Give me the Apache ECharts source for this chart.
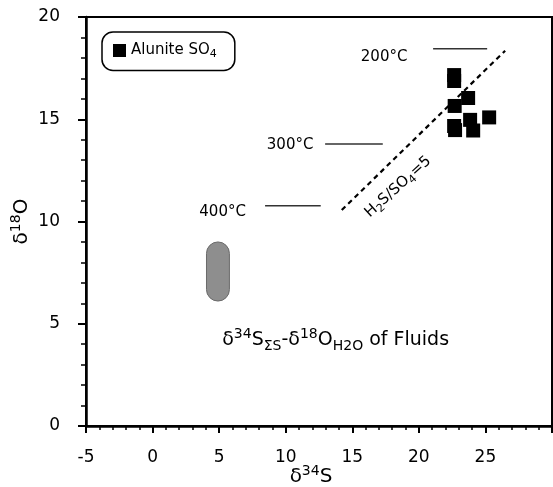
<!DOCTYPE html>
<html>
<head>
<meta charset="utf-8">
<script src="https://cdn.jsdelivr.net/npm/echarts@6/dist/echarts.min.js"></script>
<style>html,body{margin:0;padding:0;background:#fff}#c{width:553px;height:487px}</style>
</head>
<body>
<div id="c"></div>
<script>
// Alunite SO4 data (δ34S, δ18O)
var aluniteX = [22.65, 22.65, 23.70, 22.69, 25.28, 23.85, 22.65, 22.72, 24.08];
var aluniteY = [17.16, 16.87, 16.04, 15.65, 15.09, 14.97, 14.67, 14.47, 14.45];

// H2S/SO4 = 5 dashed line end points
var ratioLineX = [14.21, 26.48];
var ratioLineY = [10.56, 18.35];

// Temperature horizontal lines
var tempNames = ['200°C', '300°C', '400°C'];
var tempLineX1 = [21.07, 12.96, 8.45];
var tempLineX2 = [25.13, 17.29, 12.63];
var tempLineY = [18.45, 13.79, 10.77];
var tempLabelX = [17.39, 10.33, 5.26];
var tempLabelY = [18.04, 13.74, 10.46];

// Fluid field (gray box)
var fluidX = [4.05, 5.77];
var fluidY = [6.11, 9.0];

// Axis ticks
var xMin = -5, xMax = 30, xStep = 5;
var yMin = 0, yMax = 20, yStep = 5;

var FONT = 'DejaVu Sans';

var series = [];

series.push({
  name: 'Alunite SO4',
  type: 'scatter',
  symbol: 'rect',
  symbolSize: 14,
  itemStyle: { color: '#000', opacity: 1 },
  data: aluniteX.map(function (x, i) { return [x, aluniteY[i]]; }),
  z: 5
});

series.push({
  type: 'line',
  symbol: 'none',
  lineStyle: { color: '#000', width: 2.2, type: [5, 4] },
  data: ratioLineX.map(function (x, i) { return [x, ratioLineY[i]]; }),
  z: 4
});

tempNames.forEach(function (n, i) {
  series.push({
    type: 'line',
    symbol: 'none',
    lineStyle: { color: '#333', width: 1.5 },
    data: [[tempLineX1[i], tempLineY[i]], [tempLineX2[i], tempLineY[i]]]
  });
});

series.push({
  type: 'scatter',
  symbolSize: 0,
  silent: true,
  itemStyle: { opacity: 1 },
  data: tempNames.map(function (n, i) { return { name: n, value: [tempLabelX[i], tempLabelY[i]] }; }),
  label: {
    show: true, position: 'inside', formatter: '{b}',
    color: '#000', fontFamily: FONT, fontSize: 15
  }
});

// fluid box
series.push({
  type: 'custom',
  silent: true,
  renderItem: function (params, api) {
    var p1 = api.coord([fluidX[0], fluidY[1]]);
    var p2 = api.coord([fluidX[1], fluidY[0]]);
    var w = p2[0] - p1[0], h = p2[1] - p1[1];
    return {
      type: 'rect',
      shape: { x: p1[0], y: p1[1], width: w, height: h, r: w / 2 },
      style: { fill: '#8e8e8e', stroke: '#6a6a6a', lineWidth: 1 }
    };
  },
  data: [[fluidX[0], fluidY[0]]]
});

// ratio label and fluid annotation
series.push({
  type: 'scatter',
  symbolSize: 0,
  silent: true,
  itemStyle: { opacity: 1 },
  data: [{ value: [18.44, 11.69] }],
  label: {
    show: true, position: 'inside', rotate: 42,
    formatter: '{m|H}{s|2}{m|S/SO}{s|4}{m|=5}',
    rich: {
      m: { fontFamily: FONT, fontSize: 15, color: '#000', lineHeight: 20 },
      s: { fontFamily: FONT, fontSize: 11, color: '#000', lineHeight: 12, verticalAlign: 'bottom' }
    }
  }
});

series.push({
  type: 'scatter',
  symbolSize: 0,
  silent: true,
  itemStyle: { opacity: 1 },
  data: [{ value: [13.75, 4.2] }],
  label: {
    show: true, position: 'inside',
    formatter: '{m|δ}{p|34}{m|S}{b|ΣS}{m|-δ}{p|18}{m|O}{b|H2O}{m| of Fluids}',
    rich: {
      m: { fontFamily: FONT, fontSize: 19, color: '#000', lineHeight: 26 },
      p: { fontFamily: FONT, fontSize: 14, color: '#000', lineHeight: 14, verticalAlign: 'top' },
      b: { fontFamily: FONT, fontSize: 14, color: '#000', lineHeight: 14, verticalAlign: 'bottom' }
    }
  }
});

var chart = echarts.init(document.getElementById('c'));
chart.setOption({
  backgroundColor: '#fff',
  animation: false,
  grid: { left: 86, right: 1, top: 17, bottom: 61, show: true, borderColor: '#000', borderWidth: 2, containLabel: false, outerBoundsMode: 'none' },
  legend: {
    data: [{ name: 'Alunite SO4', icon: 'rect' }],
    left: 102, top: 32,
    orient: 'horizontal',
    padding: [11, 18, 11, 11],
    itemWidth: 13, itemHeight: 13,
    borderColor: '#000', borderWidth: 1.5, borderRadius: 11,
    formatter: function () { return '{m|Alunite SO}{s|4}'; },
    textStyle: {
      rich: {
        m: { fontFamily: FONT, fontSize: 15, color: '#000', lineHeight: 18 },
        s: { fontFamily: FONT, fontSize: 11, color: '#000', lineHeight: 12, verticalAlign: 'bottom' }
      }
    }
  },
  xAxis: {
    type: 'value', min: xMin, max: xMax, interval: xStep,
    splitLine: { show: false },
    axisLine: { show: true, onZero: false, lineStyle: { color: '#000', width: 2.5 } },
    axisTick: { show: true, inside: false, length: 7, lineStyle: { color: '#000', width: 2 } },
    minorTick: { show: true, splitNumber: 5, length: 4, lineStyle: { color: '#000', width: 1.5 } },
    axisLabel: { margin: 23, color: '#000', fontFamily: FONT, fontSize: 17, showMaxLabel: false },
    name: '{m|δ}{p|34}{m|S}',
    nameLocation: 'middle', nameGap: 38, nameMoveOverlap: false,
    nameTextStyle: {
      padding: [0, 16, 0, 0],
      rich: {
        m: { fontFamily: FONT, fontSize: 20, color: '#000', lineHeight: 26 },
        p: { fontFamily: FONT, fontSize: 14, color: '#000', lineHeight: 14, verticalAlign: 'top' }
      }
    }
  },
  yAxis: {
    type: 'value', min: yMin, max: yMax, interval: yStep,
    splitLine: { show: false },
    axisLine: { show: true, onZero: false, lineStyle: { color: '#000', width: 2.5 } },
    axisTick: { show: true, inside: false, length: 8, lineStyle: { color: '#000', width: 2 } },
    minorTick: { show: true, splitNumber: 5, length: 5, lineStyle: { color: '#000', width: 1.5 } },
    axisLabel: { margin: 26, color: '#000', fontFamily: FONT, fontSize: 17 },
    name: '{m|δ}{p|18}{m|O}',
    nameLocation: 'middle', nameGap: 51, nameRotate: 90, nameMoveOverlap: false,
    nameTextStyle: {
      rich: {
        m: { fontFamily: FONT, fontSize: 20, color: '#000', lineHeight: 26 },
        p: { fontFamily: FONT, fontSize: 14, color: '#000', lineHeight: 14, verticalAlign: 'top' }
      }
    }
  },
  series: series
});
</script>
</body>
</html>
